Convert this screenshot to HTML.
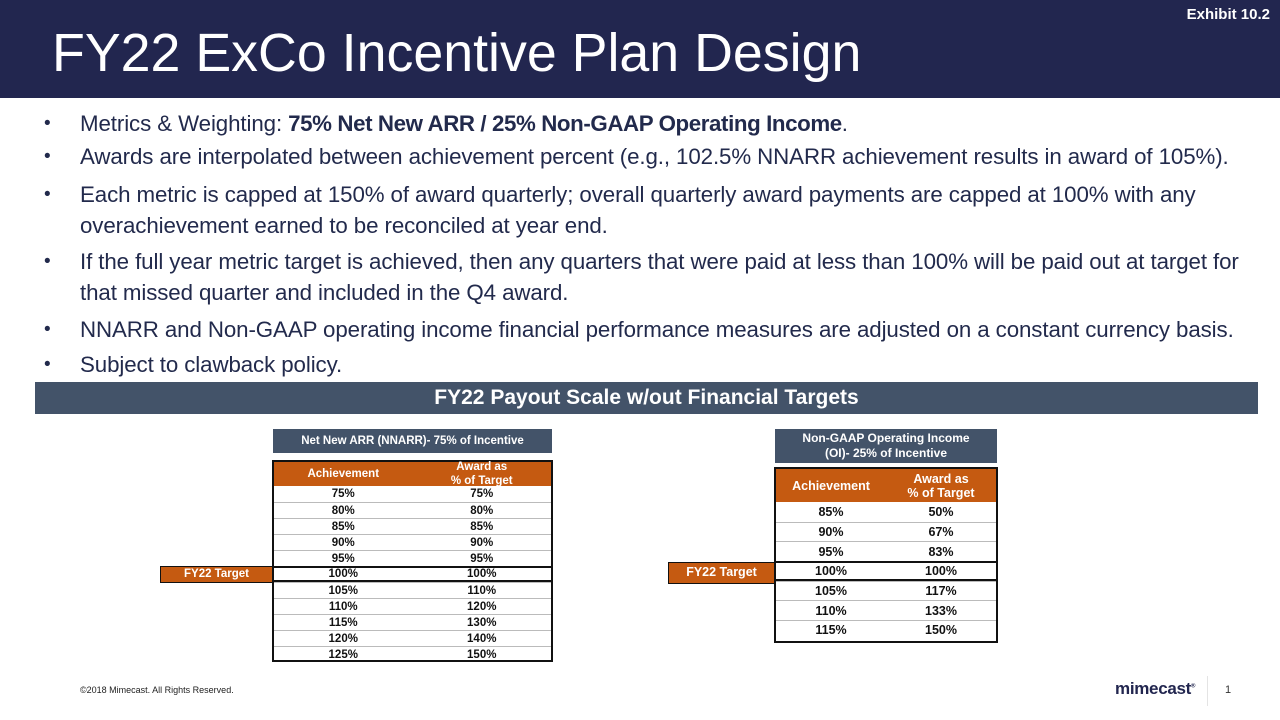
<!DOCTYPE html>
<html><head><meta charset="utf-8"><style>
body{margin:0;width:1280px;height:720px;position:relative;overflow:hidden;background:#fff;font-family:"Liberation Sans",sans-serif}
.abs{position:absolute}
.hdr{left:0;top:0;width:1280px;height:98px;background:#22264f}
.title{left:52px;top:22px;color:#fff;font-size:54px;white-space:nowrap;transform-origin:left top;transform:scaleX(0.995)}
.exh{right:10px;top:6px;color:#fff;font-weight:bold;font-size:15px}
.bul{color:#222a4c;font-size:22.3px;white-space:nowrap;left:44px}
.bul span.d{position:absolute;left:0;top:0;font-size:19px;line-height:33px}
.bul div{margin-left:36px;line-height:33px;letter-spacing:-0.1px}
.banner{left:35px;top:382px;width:1223px;height:32px;background:#435369;color:#fff;font-weight:bold;font-size:21px;text-align:center;line-height:32px}
.ttl{background:#435369;color:#fff;font-weight:bold;font-size:11.5px;text-align:center;display:flex;align-items:center;justify-content:center;line-height:15px}
.tbl{border:2px solid #111;box-sizing:border-box;background:#fff}
.hrow{background:#c55a11;color:#fff;font-weight:bold;display:flex;text-align:center;align-items:center}
.row{display:flex;font-weight:bold;color:#111;text-align:center;border-top:1.5px solid #bbb;box-sizing:border-box;align-items:center}
.row.tgt{border-top:2px solid #111;border-bottom:2px solid #111}
.c{flex:1}
.tag{background:#c55a11;color:#fff;font-weight:bold;text-align:center;border:1.5px solid #111;box-sizing:border-box}
</style></head><body>
<div class="abs hdr"></div>
<div class="abs title">FY22 ExCo Incentive Plan Design</div>
<div class="abs exh">Exhibit 10.2</div>

<div class="abs bul" style="top:107px"><span class="d">•</span><div>Metrics &amp; Weighting: <b style="letter-spacing:-0.4px">75% Net New ARR / 25% Non-GAAP Operating Income</b>.</div></div>
<div class="abs bul" style="top:140px"><span class="d">•</span><div>Awards are interpolated between achievement percent (e.g., 102.5% NNARR achievement results in award of 105%).</div></div>
<div class="abs bul" style="top:179px"><span class="d" style="line-height:31px">•</span><div style="line-height:31px">Each metric is capped at 150% of award quarterly; overall quarterly award payments are capped at 100% with any<br>overachievement earned to be reconciled at year end.</div></div>
<div class="abs bul" style="top:246px"><span class="d" style="line-height:31px">•</span><div style="line-height:31px">If the full year metric target is achieved, then any quarters that were paid at less than 100% will be paid out at target for<br>that missed quarter and included in the Q4 award.</div></div>
<div class="abs bul" style="top:313px"><span class="d">•</span><div>NNARR and Non-GAAP operating income financial performance measures are adjusted on a constant currency basis.</div></div>
<div class="abs bul" style="top:348px"><span class="d">•</span><div>Subject to clawback policy.</div></div>

<div class="abs banner">FY22 Payout Scale w/out Financial Targets</div>

<div class="abs ttl" style="left:273px;top:429px;width:279px;height:24px">Net New ARR (NNARR)- 75% of Incentive</div>
<div class="abs tbl" id="t1" style="left:272px;top:460px;width:281px;height:202px"></div>
<div class="abs tag" style="left:160px;top:566px;width:113px;height:17px;font-size:11.5px;line-height:14px">FY22 Target</div>

<div class="abs ttl" style="left:775px;top:429px;width:222px;height:34px;font-size:12px">Non-GAAP Operating Income<br>(OI)- 25% of Incentive</div>
<div class="abs tbl" id="t2" style="left:774px;top:467px;width:224px;height:176px"></div>
<div class="abs tag" style="left:668px;top:562px;width:107px;height:22px;font-size:12.5px;line-height:19px">FY22 Target</div>

<div class="abs" style="left:80px;top:685px;font-size:9px;color:#222">©2018 Mimecast. All Rights Reserved.</div>
<div class="abs" style="left:1115px;top:679px;font-size:17px;font-weight:bold;color:#22264f;letter-spacing:-0.3px">mimecast<sup style="font-size:6px">®</sup></div>
<div class="abs" style="left:1207px;top:676px;width:1px;height:30px;background:#e4e4e4"></div>
<div class="abs" style="left:1225px;top:684px;font-size:11px;color:#333">1</div>

<script>
const nnarrAch=["75%","80%","85%","90%","95%","100%","105%","110%","115%","120%","125%"];
const nnarrAward=["75%","80%","85%","90%","95%","100%","110%","120%","130%","140%","150%"];
const oiAch=["85%","90%","95%","100%","105%","110%","115%"];
const oiAward=["50%","67%","83%","100%","117%","133%","150%"];
function build(id,ach,award,hh,rh,fs,hfs,prefix){
  const t=document.getElementById(id);
  const h=document.createElement('div');
  h.className='hrow';h.style.height=hh+'px';h.style.fontSize=hfs+'px';
  
  
  h.innerHTML='<div class="c">Achievement</div><div class="c" style="line-height:14px">Award as<br>% of Target</div>';
  t.appendChild(h);
  ach.forEach((a,i)=>{
    const r=document.createElement('div');
    r.className='row'+(a==='100%'?' tgt':'');
    r.style.height=rh+'px';r.style.fontSize=fs+'px';
    if(i===0)r.style.borderTop='none';
    
    
    r.innerHTML='<div class="c">'+a+'</div><div class="c">'+award[i]+'</div>';
    t.appendChild(r);
  });
}
build('t1',nnarrAch,nnarrAward,24,16,11.5,11.5,'nnarr');
build('t2',oiAch,oiAward,33,19.7,12.5,12.5,'oi');
</script>
</body></html>
